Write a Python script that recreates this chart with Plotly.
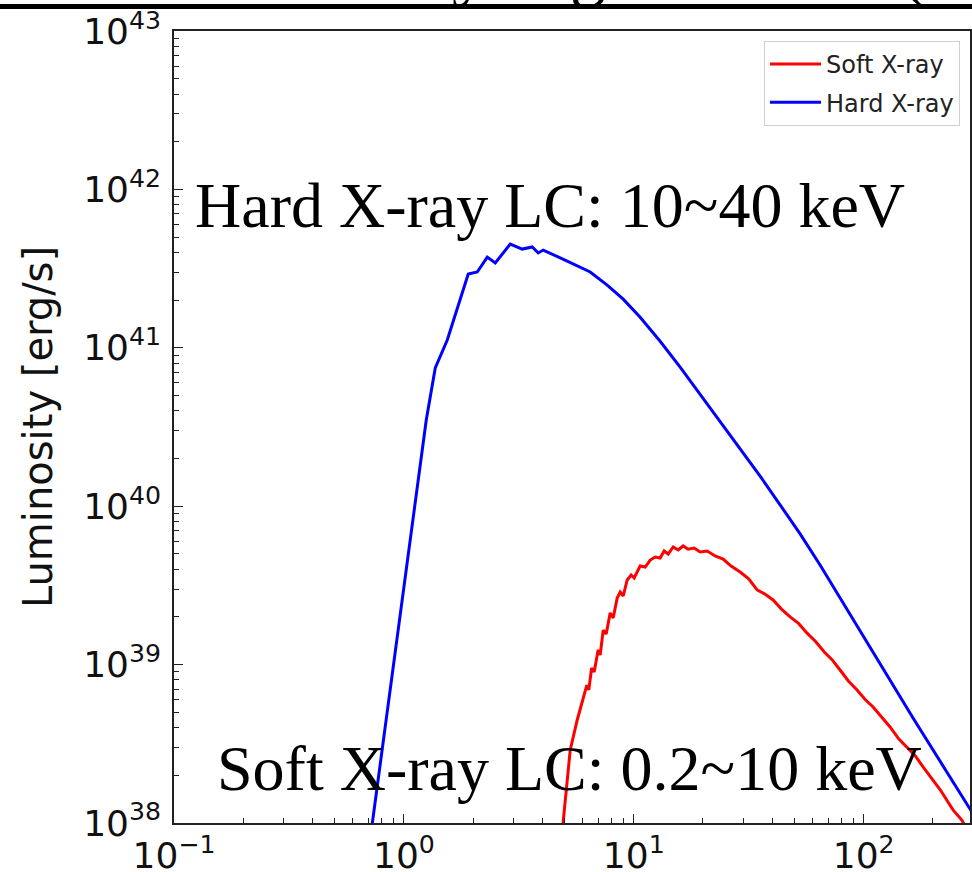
import plotly.graph_objects as go

# Time since explosion [days] and band luminosities [erg/s]
soft_time = [4.74, 4.932, 5.290, 5.675, 6.026, 6.248, 6.374, 6.554, 6.726, 7.001,
             7.143, 7.362, 7.586, 7.896, 8.136, 8.469, 8.728, 8.995, 9.362, 9.743,
             10.04, 10.66, 11.21, 11.79, 12.39, 13.02, 13.56, 14.11, 14.84, 15.60,
             16.40, 17.24, 18.31, 19.44, 20.85, 22.59, 24.47, 26.51, 29.02, 31.6,
             34.40, 37.3, 40.37, 43.9, 47.86, 52.1, 56.74, 61.8, 67.42, 73.0,
             78.95, 86.0, 93.6, 101.5, 109.9, 120.0, 130.3, 142.0, 154.4, 167.5,
             181.3, 197.5, 215.3, 244.7, 267.8, 305.0]
soft_lum = [5.67e37, 1.01e38, 2.89e38, 4.47e38, 6.24e38, 7.43e38, 6.92e38, 9.52e38, 8.98e38, 1.24e39,
            1.15e39, 1.65e39, 1.56e39, 2.12e39, 1.97e39, 2.63e39, 2.87e39, 2.71e39, 3.42e39, 3.68e39,
            3.52e39, 4.19e39, 4.13e39, 4.57e39, 4.78e39, 4.71e39, 5.21e39, 4.99e39, 5.53e39, 5.29e39,
            5.61e39, 5.35e39, 5.44e39, 5.14e39, 5.21e39, 4.85e39, 4.64e39, 4.19e39, 3.84e39, 3.48e39,
            2.96e39, 2.78e39, 2.56e39, 2.24e39, 2.00e39, 1.82e39, 1.58e39, 1.40e39, 1.20e39, 1.07e39,
            9.24e38, 7.85e38, 6.91e38, 6.02e38, 5.40e38, 4.62e38, 4.04e38, 3.40e38, 3.02e38, 2.66e38,
            2.26e38, 1.90e38, 1.62e38, 1.21e38, 1.04e38, 7.27e37]

hard_time = [0.70, 0.729, 1.251, 1.369, 1.544, 1.724, 1.905, 2.085, 2.305, 2.497,
             2.901, 3.272, 3.617, 3.840, 4.037, 5.133, 6.463, 7.660, 8.995, 10.66,
             13.02, 15.91, 19.44, 23.75, 29.02, 35.45, 43.30, 52.91, 64.62, 78.95,
             109.9, 164.0, 230.0, 290.1, 354.5]
hard_lum = [6.5e37, 1.0e38, 3.50e40, 7.46e40, 1.12e41, 1.86e41, 2.92e41, 3.01e41, 3.74e41, 3.43e41,
            4.52e41, 4.20e41, 4.33e41, 3.97e41, 4.14e41, 3.53e41, 3.01e41, 2.49e41, 2.03e41, 1.56e41,
            1.10e41, 7.56e40, 5.11e40, 3.45e40, 2.33e40, 1.55e40, 1.02e40, 6.68e39, 4.25e39, 2.63e39,
            1.18e39, 4.60e38, 2.10e38, 1.23e38, 7.70e37]

series_names = ["Soft X-ray", "Hard X-ray"]
series_colors = ["#ff0000", "#0000ff"]
band_labels = ["Hard X-ray LC: 10~40 keV", "Soft X-ray LC: 0.2~10 keV"]
heading = "X-ray Light Curves (Model)"

x_exponents = [-1, 0, 1, 2]
y_exponents = [38, 39, 40, 41, 42, 43]

W, H = 972, 872
L_M, R_M, T_M, B_M = 173.6, 2, 31, 49
plot_w = W - L_M - R_M
plot_h = H - T_M - B_M


def px_x(x):
    return (x - L_M) / plot_w


def px_y(y):
    return 1 - (y - T_M) / plot_h


def power_label(e):
    sign = "\u2212" if e < 0 else ""
    return f"10<sup>{sign}{abs(e)}</sup>"


fig = go.Figure()
for t, lum, name, col in zip([soft_time, hard_time], [soft_lum, hard_lum],
                             series_names, series_colors):
    fig.add_trace(go.Scatter(x=t, y=lum, mode="lines", name=name, legendgroup=name,
                             line=dict(color=col, width=3)))

axis_common = dict(
    type="log", showgrid=False, zeroline=False, automargin=False,
    showline=True, linecolor="#222222", linewidth=1.6, mirror=True,
    ticks="inside", ticklen=9, tickwidth=1.4, tickcolor="#222222",
    tickfont=dict(family="DejaVu Sans", size=36, color="#111111"),
    minor=dict(ticks="inside", ticklen=5, tickwidth=1.1, tickcolor="#222222",
               showgrid=False, dtick="D1"),
)

fig.update_xaxes(range=[-1.0001, 2.4626],
                 tickvals=[10.0 ** e for e in x_exponents],
                 ticktext=[power_label(e) for e in x_exponents],
                 ticklabelstandoff=0, **axis_common)
fig.update_yaxes(range=[37.9999, 43.0001],
                 tickvals=[10.0 ** e for e in y_exponents],
                 ticktext=[power_label(e) for e in y_exponents],
                 ticklabelstandoff=4, **axis_common,
                 title=dict(text="Luminosity [erg/s]", standoff=18,
                            font=dict(family="DejaVu Sans", size=40, color="#111111")))

annotations = [
    dict(text=band_labels[0], xref="paper", yref="paper", x=px_x(193), y=px_y(205),
         xanchor="left", yanchor="middle", showarrow=False,
         font=dict(family="Liberation Serif", size=64, color="black")),
    dict(text=band_labels[1], xref="paper", yref="paper", x=px_x(215), y=px_y(768),
         xanchor="left", yanchor="middle", showarrow=False,
         font=dict(family="Liberation Serif", size=64, color="black")),
    dict(text=heading, xref="paper", yref="paper", x=px_x(318), y=px_y(11),
         xanchor="left", yanchor="bottom", showarrow=False,
         font=dict(family="Liberation Serif", size=72, color="black")),
]

fig.update_layout(
    width=W, height=H,
    margin=dict(l=L_M, r=R_M, t=T_M, b=B_M, pad=0, autoexpand=False),
    paper_bgcolor="white", plot_bgcolor="white",
    showlegend=True,
    legend=dict(x=px_x(960), y=px_y(41), xanchor="right", yanchor="top",
                bgcolor="white", bordercolor="#d0d0d0", borderwidth=1,
                font=dict(family="DejaVu Sans", size=24, color="#222222"),
                itemwidth=51, traceorder="grouped", tracegroupgap=4),
    annotations=annotations,
    shapes=[dict(type="line", xref="paper", yref="paper",
                 x0=px_x(-5), x1=px_x(980), y0=px_y(6.5), y1=px_y(6.5),
                 line=dict(color="black", width=5))],
)

fig.write_html("out.html")
